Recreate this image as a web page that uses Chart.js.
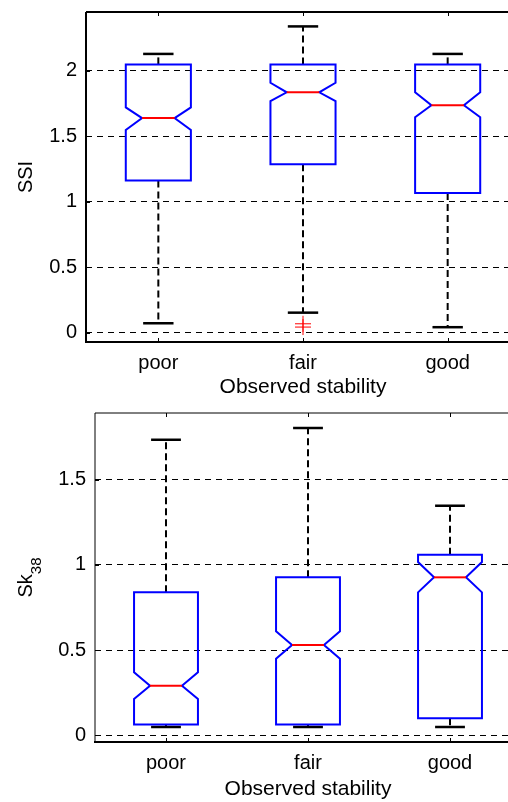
<!DOCTYPE html>
<html>
<head>
<meta charset="utf-8">
<script src="https://cdn.jsdelivr.net/npm/chart.js@4.4.1/dist/chart.umd.min.js"></script>
<style>
  html, body { margin: 0; padding: 0; background: #fff; overflow: hidden; width: 508px; height: 802px; }
  .panel { position: absolute; left: 0; }
</style>
</head>
<body>
<div class="panel" style="top:0"><canvas id="ssiChart" width="530" height="400" style="width:530px;height:400px"></canvas></div>
<div class="panel" style="top:400px"><canvas id="skChart" width="530" height="402" style="width:530px;height:402px"></canvas></div>
<script>
// categories on the x axis
const categories = ['poor', 'fair', 'good'];

// SSI panel (top)
const ssiLowerWhisker = [0.074, 0.155, 0.044];
const ssiQ1           = [1.163, 1.288, 1.069];
const ssiNotchLow     = [1.55, 1.77, 1.647];
const ssiMedian       = [1.64, 1.837, 1.738];
const ssiNotchHigh    = [1.722, 1.91, 1.837];
const ssiQ3           = [2.05, 2.05, 2.05];
const ssiUpperWhisker = [2.13, 2.34, 2.13];
const ssiOutliers     = [[], [0.07, 0.045], []];
const ssiTicks        = [0, 0.5, 1, 1.5, 2];

// Sk38 panel (bottom)
const skLowerWhisker = [0.049, 0.049, 0.049];
const skQ1           = [0.063, 0.063, 0.1];
const skNotchLow     = [0.213, 0.45, 0.839];
const skMedian       = [0.291, 0.53, 0.927];
const skNotchHigh    = [0.37, 0.61, 1.017];
const skQ3           = [0.839, 0.927, 1.06];
const skUpperWhisker = [1.734, 1.803, 1.347];
const skOutliers     = [[], [], []];
const skTicks        = [0, 0.5, 1, 1.5];

const FONT = "'Liberation Sans', Arial, sans-serif";
const BOX_HALF = 0.225;   // half box width, in x units
const NOTCH_HALF = 0.1125;
const CAP_HALF = 0.105;

function seg(ctx, x1, y1, x2, y2) {
    ctx.beginPath();
    ctx.moveTo(x1, y1);
    ctx.lineTo(x2, y2);
    ctx.stroke();
}

// notched boxes + whiskers, placed through the chart scales
const boxPlugin = {
    id: 'notchBoxes',
    beforeDatasetsDraw(chart, args, opts) {
        const { ctx, scales: { x, y } } = chart;
        const s = opts.stats;
        ctx.save();
        categories.forEach((c, i) => {
            const xc = i + 1;
            const px = x.getPixelForValue(xc);
            const xl = x.getPixelForValue(xc - BOX_HALF), xr = x.getPixelForValue(xc + BOX_HALF);
            const nl = x.getPixelForValue(xc - NOTCH_HALF), nr = x.getPixelForValue(xc + NOTCH_HALF);
            const cl = x.getPixelForValue(xc - CAP_HALF), cr = x.getPixelForValue(xc + CAP_HALF);
            const yLo = y.getPixelForValue(s.lower[i]), yHi = y.getPixelForValue(s.upper[i]);
            const yQ1 = y.getPixelForValue(s.q1[i]), yQ3 = y.getPixelForValue(s.q3[i]);
            const yNl = y.getPixelForValue(s.notchLow[i]), yNh = y.getPixelForValue(s.notchHigh[i]);
            const yMed = y.getPixelForValue(s.median[i]);

            // whiskers
            ctx.strokeStyle = '#000';
            ctx.lineWidth = 2;
            ctx.setLineDash([7, 4]);
            seg(ctx, px, yQ3, px, yHi);
            seg(ctx, px, yQ1, px, yLo);
            ctx.setLineDash([]);
            ctx.lineWidth = 2.5;
            seg(ctx, cl, yHi, cr, yHi);
            seg(ctx, cl, yLo, cr, yLo);

            // notched box
            ctx.strokeStyle = '#0000ff';
            ctx.lineWidth = 2;
            ctx.beginPath();
            ctx.moveTo(xl, yQ3);
            ctx.lineTo(xl, yNh);
            ctx.lineTo(nl, yMed);
            ctx.lineTo(xl, yNl);
            ctx.lineTo(xl, yQ1);
            ctx.lineTo(xr, yQ1);
            ctx.lineTo(xr, yNl);
            ctx.lineTo(nr, yMed);
            ctx.lineTo(xr, yNh);
            ctx.lineTo(xr, yQ3);
            ctx.closePath();
            ctx.stroke();

            // median
            ctx.strokeStyle = '#ff0000';
            seg(ctx, nl, yMed, nr, yMed);
        });
        ctx.restore();
    },
    afterDraw(chart, args, opts) {
        const { ctx, chartArea: a, scales: { x, y } } = chart;
        ctx.save();
        ctx.strokeStyle = '#000';
        ctx.lineWidth = 1;
        // inward tick marks
        x.ticks.forEach(t => {
            const px = Math.round(x.getPixelForValue(t.value)) + 0.5;
            seg(ctx, px, a.top, px, a.top + 4);
            seg(ctx, px, a.bottom, px, a.bottom - 4);
        });
        y.ticks.forEach(t => {
            const py = Math.round(y.getPixelForValue(t.value)) + 0.5;
            seg(ctx, a.left, py, a.left + 4, py);
        });
        // axes frame
        const f = opts.frame;
        ctx.lineWidth = f.top; seg(ctx, a.left, a.top, a.right, a.top);
        ctx.lineWidth = f.bottom; seg(ctx, a.left - 1, a.bottom, a.right, a.bottom);
        ctx.lineWidth = f.left; seg(ctx, a.left, a.top, a.left, a.bottom);
        ctx.lineWidth = 1; seg(ctx, a.right, a.top, a.right, a.bottom);

        // y axis title (with optional subscript)
        const t = opts.yTitle;
        ctx.fillStyle = '#000';
        ctx.textBaseline = 'alphabetic';
        ctx.font = `20px ${FONT}`;
        const wMain = ctx.measureText(t.main).width;
        ctx.font = `15px ${FONT}`;
        const wSub = t.sub ? ctx.measureText(t.sub).width : 0;
        ctx.translate(t.x, (a.top + a.bottom) / 2);
        ctx.rotate(-Math.PI / 2);
        const start = -(wMain + wSub) / 2;
        ctx.font = `20px ${FONT}`;
        ctx.fillText(t.main, start, 0);
        if (t.sub) {
            ctx.font = `15px ${FONT}`;
            ctx.fillText(t.sub, start + wMain, 9);
        }
        ctx.restore();
    }
};

function makeChart(id, cfg) {
    const outlierPoints = [];
    cfg.outliers.forEach((list, i) => list.forEach(v => outlierPoints.push({ x: i + 1, y: v })));

    return new Chart(document.getElementById(id), {
        type: 'scatter',
        data: {
            datasets: [{
                data: outlierPoints,
                pointStyle: 'cross',
                pointRadius: 8,
                borderColor: '#ff0000',
                backgroundColor: '#ff0000',
                borderWidth: 1
            }]
        },
        options: {
            responsive: false,
            animation: false,
            devicePixelRatio: 1,
            layout: { padding: { top: cfg.padTop, right: cfg.padRight, left: 0, bottom: 0 } },
            plugins: {
                legend: { display: false },
                tooltip: { enabled: false },
                notchBoxes: {
                    stats: cfg.stats,
                    frame: cfg.frame,
                    yTitle: cfg.yTitle
                }
            },
            scales: {
                x: {
                    type: 'linear',
                    min: 0.5,
                    max: 3.5,
                    afterBuildTicks: s => { s.ticks = categories.map((c, i) => ({ value: i + 1 })); },
                    afterFit: s => { s.height = cfg.xHeight; s.paddingLeft = 0; s.paddingRight = 0; },
                    grid: { display: false, drawTicks: false },
                    border: { display: false },
                    ticks: {
                        color: '#000',
                        padding: 9,
                        font: { family: FONT, size: 20 },
                        callback: v => categories[v - 1]
                    },
                    title: {
                        display: true,
                        text: 'Observed stability',
                        color: '#000',
                        font: { family: FONT, size: 21 },
                        padding: { top: cfg.xTitlePad, bottom: 0 }
                    }
                },
                y: {
                    min: cfg.yMin,
                    max: cfg.yMax,
                    afterBuildTicks: s => { s.ticks = cfg.ticks.map(v => ({ value: v })); },
                    afterFit: s => { s.width = cfg.yWidth; s.paddingTop = 0; s.paddingBottom = 0; },
                    grid: { color: '#000', lineWidth: 1, drawTicks: false },
                    border: { display: false, dash: [6, 5] },
                    ticks: {
                        color: '#000',
                        padding: 9,
                        font: { family: FONT, size: 20 },
                        callback: v => String(v)
                    }
                }
            }
        },
        plugins: [boxPlugin]
    });
}

makeChart('ssiChart', {
    stats: { lower: ssiLowerWhisker, q1: ssiQ1, notchLow: ssiNotchLow, median: ssiMedian,
             notchHigh: ssiNotchHigh, q3: ssiQ3, upper: ssiUpperWhisker },
    outliers: ssiOutliers,
    ticks: ssiTicks,
    yMin: -0.069, yMax: 2.45,
    padTop: 12, padRight: 10,
    xHeight: 58, yWidth: 86, xTitlePad: 3,
    frame: { top: 2, bottom: 2, left: 2 },
    yTitle: { main: 'SSI', sub: '', x: 32 }
});

makeChart('skChart', {
    stats: { lower: skLowerWhisker, q1: skQ1, notchLow: skNotchLow, median: skMedian,
             notchHigh: skNotchHigh, q3: skQ3, upper: skUpperWhisker },
    outliers: skOutliers,
    ticks: skTicks,
    yMin: -0.039, yMax: 1.891,
    padTop: 13, padRight: 9,
    xHeight: 60, yWidth: 95, xTitlePad: 5,
    frame: { top: 1, bottom: 2, left: 1 },
    yTitle: { main: 'Sk', sub: '38', x: 32 }
});
</script>
</body>
</html>
